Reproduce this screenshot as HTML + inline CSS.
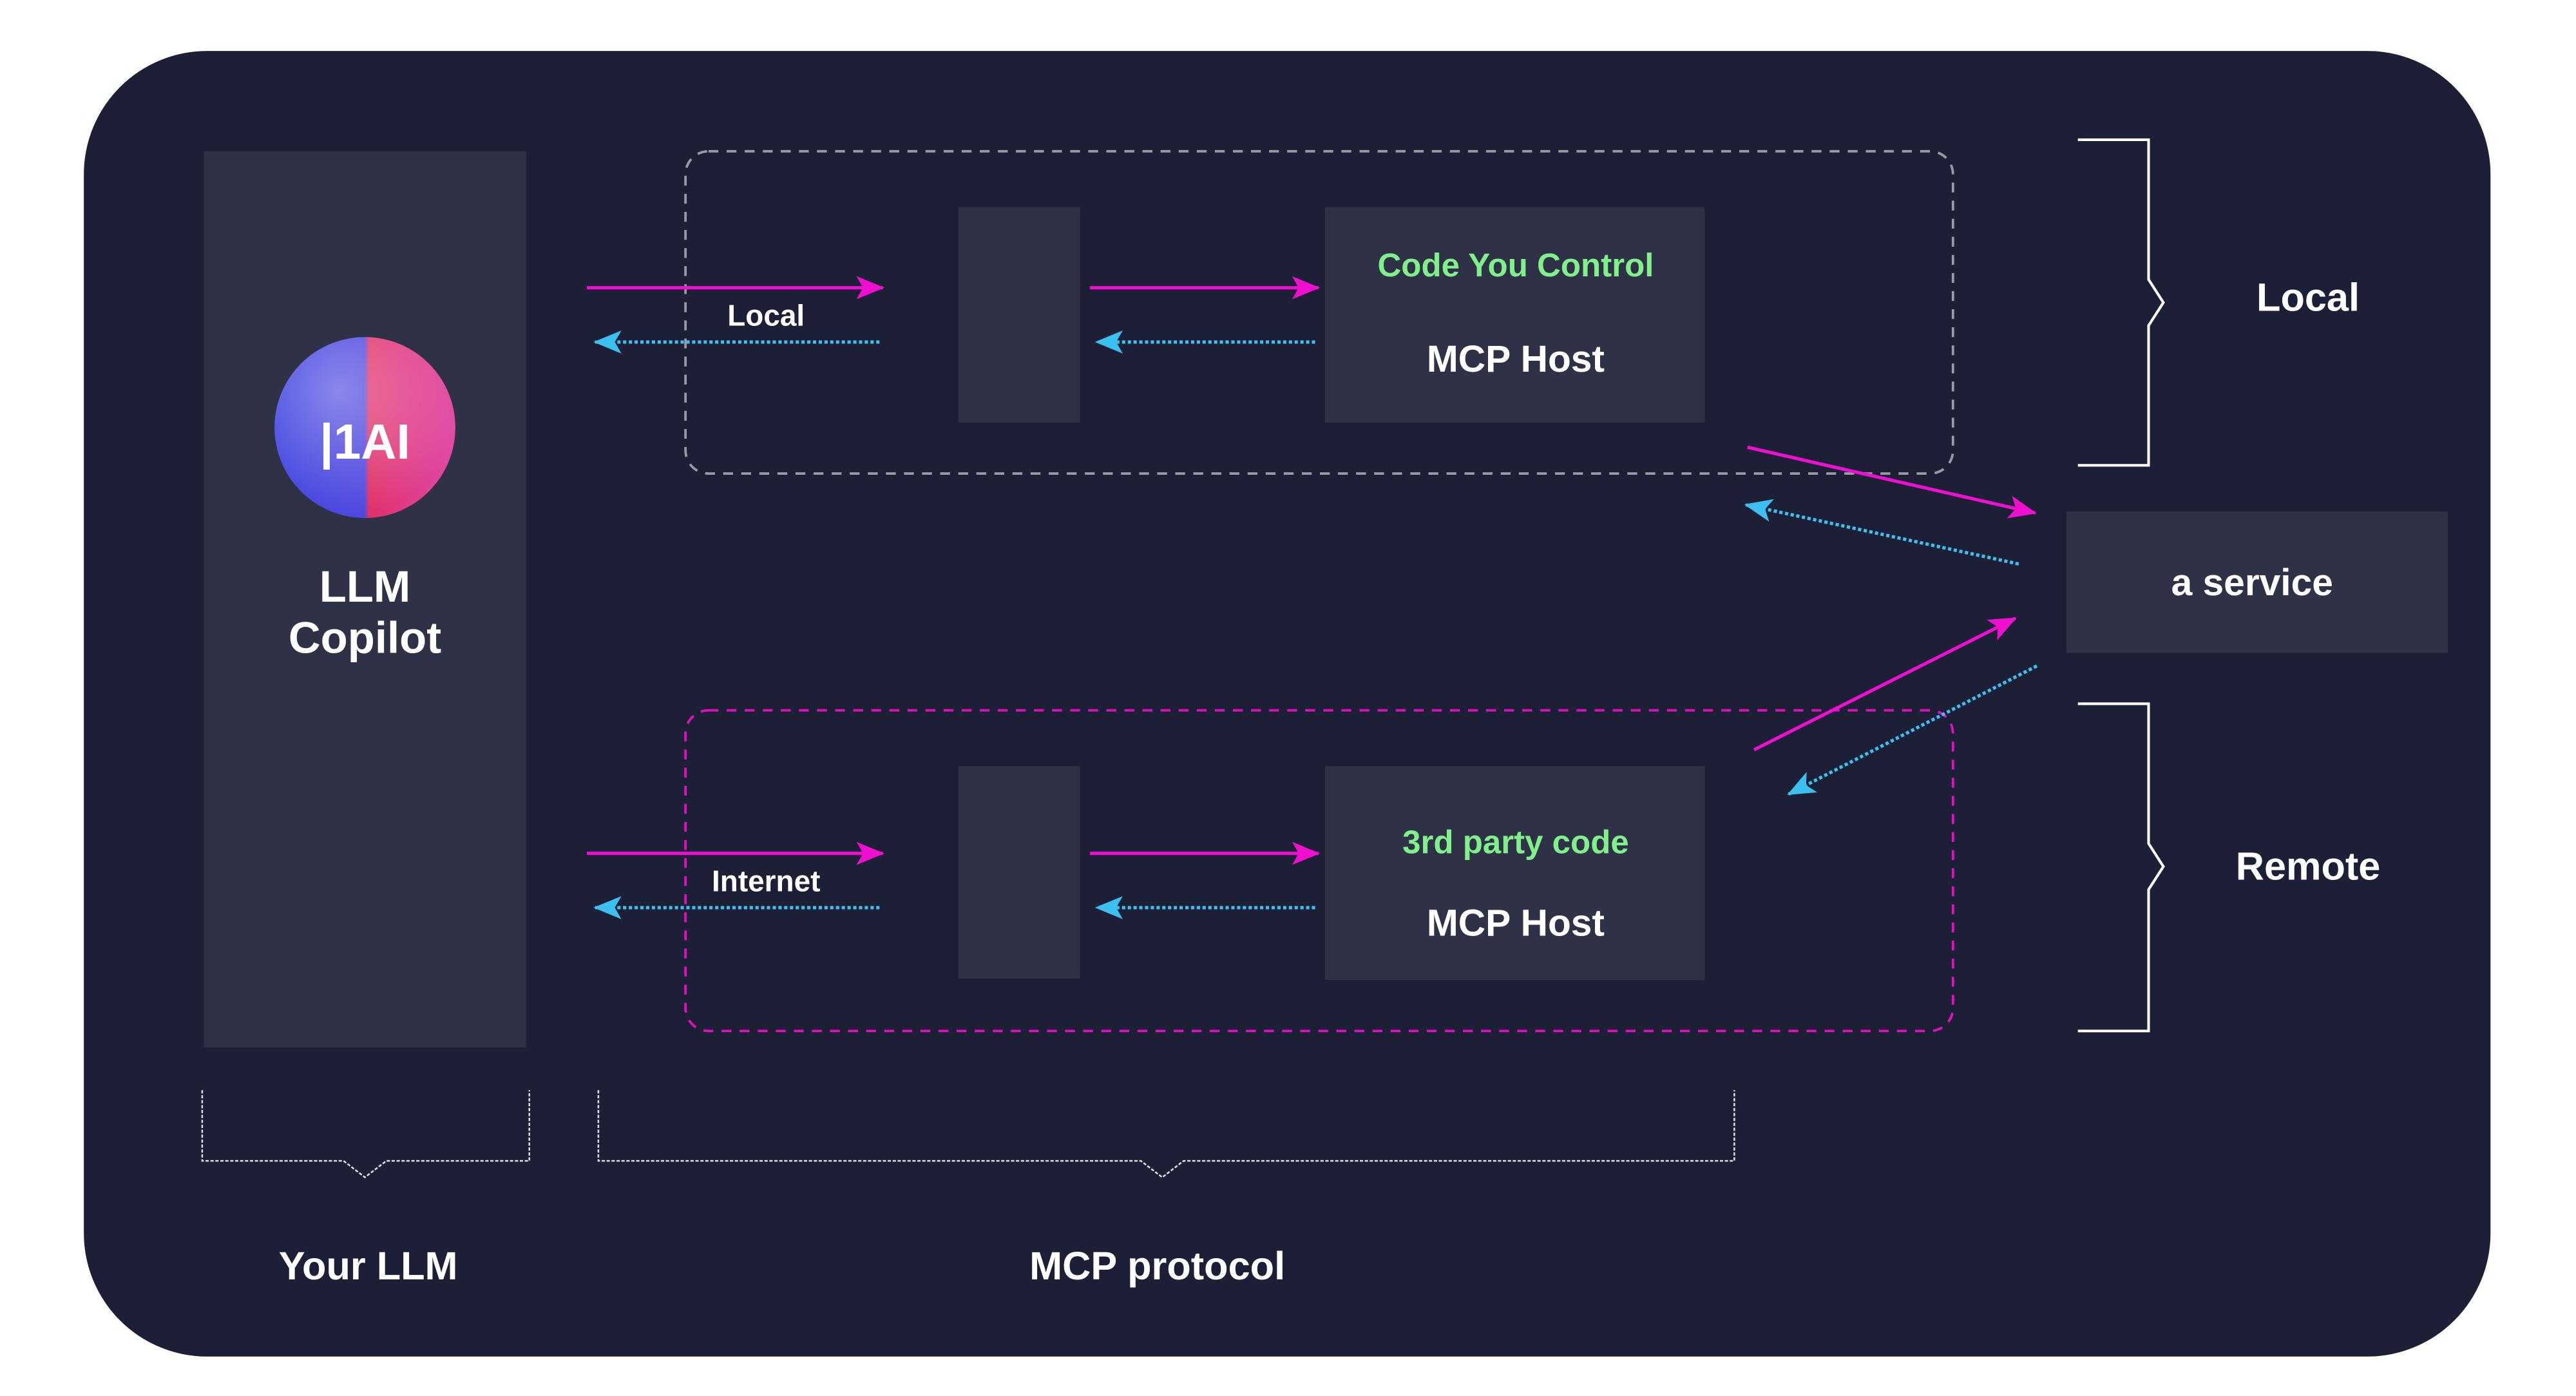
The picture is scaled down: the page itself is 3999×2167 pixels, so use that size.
<!DOCTYPE html>
<html><head><meta charset="utf-8"><style>html,body{margin:0;padding:0;background:#fff}svg{display:block}text{font-family:"Liberation Sans",sans-serif;font-weight:bold}</style></head>
<body>
<svg width="3999" height="2167" viewBox="0 0 1567 849" preserveAspectRatio="none" xmlns="http://www.w3.org/2000/svg">
<defs>
<marker id="mg" markerWidth="20" markerHeight="20" refX="16" refY="10" orient="auto" markerUnits="userSpaceOnUse" viewBox="0 0 20 20"><path d="M0,3 L17,10 L0,17 L4,10 Z" fill="#f00fd0"/></marker>
<marker id="cy" markerWidth="20" markerHeight="20" refX="16" refY="10" orient="auto" markerUnits="userSpaceOnUse" viewBox="0 0 20 20"><path d="M0,3 L17,10 L0,17 L4,10 Z" fill="#3cc0f0"/></marker>
<linearGradient id="lg" x1="0" x2="1" y1="0" y2="0"><stop offset="0" stop-color="#3a3fe0"/><stop offset="0.5" stop-color="#5048e0"/><stop offset="0.52" stop-color="#e0306a"/><stop offset="1" stop-color="#e04aa8"/></linearGradient>
<radialGradient id="hl" cx="0.35" cy="0.3" r="0.7"><stop offset="0" stop-color="#fff" stop-opacity="0.35"/><stop offset="1" stop-color="#fff" stop-opacity="0"/></radialGradient>
</defs>
<rect x="51" y="31" width="1464" height="794" rx="75" fill="#1d1f36"/>
<rect x="124" y="92" width="196" height="545" fill="#2f3146"/>
<circle cx="222" cy="260" r="55" fill="url(#lg)"/>
<circle cx="222" cy="260" r="55" fill="url(#hl)"/>
<text x="222" y="279" font-size="30" fill="#fff" text-anchor="middle">|1AI</text>
<text x="222" y="366" font-size="27" fill="#fff" text-anchor="middle">LLM</text>
<text x="222" y="397" font-size="27" fill="#fff" text-anchor="middle">Copilot</text>

<rect x="417" y="92" width="771" height="196" rx="14" fill="none" stroke="#9a9aa4" stroke-width="1.5" stroke-dasharray="6 5"/>
<rect x="417" y="432" width="771" height="195" rx="14" fill="none" stroke="#e010c0" stroke-width="1.5" stroke-dasharray="6 5"/>

<rect x="583" y="126" width="74" height="131" fill="#2f3146"/>
<rect x="806" y="126" width="231" height="131" fill="#2f3146"/>
<text x="922" y="168" font-size="20" fill="#7ff08a" text-anchor="middle">Code You Control</text>
<text x="922" y="226" font-size="23" fill="#fff" text-anchor="middle">MCP Host</text>

<rect x="583" y="466" width="74" height="129" fill="#2f3146"/>
<rect x="806" y="466" width="231" height="130" fill="#2f3146"/>
<text x="922" y="519" font-size="20" fill="#7ff08a" text-anchor="middle">3rd party code</text>
<text x="922" y="569" font-size="23" fill="#fff" text-anchor="middle">MCP Host</text>

<rect x="1257" y="311" width="232" height="86" fill="#2f3146"/>
<text x="1370" y="362" font-size="23" fill="#fff" text-anchor="middle">a service</text>

<g stroke-width="2" fill="none">
<line x1="357" y1="175" x2="537" y2="175" stroke="#f00fd0" marker-end="url(#mg)"/>
<line x1="535" y1="208" x2="362" y2="208" stroke="#3cc0f0" stroke-dasharray="2 1.5" marker-end="url(#cy)"/>
<line x1="663" y1="175" x2="802" y2="175" stroke="#f00fd0" marker-end="url(#mg)"/>
<line x1="800" y1="208" x2="667" y2="208" stroke="#3cc0f0" stroke-dasharray="2 1.5" marker-end="url(#cy)"/>
<line x1="357" y1="519" x2="537" y2="519" stroke="#f00fd0" marker-end="url(#mg)"/>
<line x1="535" y1="552" x2="362" y2="552" stroke="#3cc0f0" stroke-dasharray="2 1.5" marker-end="url(#cy)"/>
<line x1="663" y1="519" x2="802" y2="519" stroke="#f00fd0" marker-end="url(#mg)"/>
<line x1="800" y1="552" x2="667" y2="552" stroke="#3cc0f0" stroke-dasharray="2 1.5" marker-end="url(#cy)"/>
<line x1="1063" y1="272" x2="1238" y2="312" stroke="#f00fd0" marker-end="url(#mg)"/>
<line x1="1228" y1="343" x2="1062" y2="307" stroke="#3cc0f0" stroke-dasharray="2 1.5" marker-end="url(#cy)"/>
<line x1="1067" y1="456" x2="1226" y2="376" stroke="#f00fd0" marker-end="url(#mg)"/>
<line x1="1239" y1="405" x2="1088" y2="483" stroke="#3cc0f0" stroke-dasharray="2 1.5" marker-end="url(#cy)"/>
</g>
<text x="466" y="198" font-size="18" fill="#fff" text-anchor="middle">Local</text>
<text x="466" y="542" font-size="18" fill="#fff" text-anchor="middle">Internet</text>

<g stroke="#fff" stroke-width="1.6" fill="none">
<polyline points="1264,85 1307,85 1307,170 1316,184 1307,198 1307,283 1264,283"/>
<polyline points="1264,428 1307,428 1307,513 1316,527 1307,541 1307,627 1264,627"/>
</g>
<g stroke="#ddd" stroke-width="1" fill="none" stroke-dasharray="2 1">
<polyline points="123,663 123,706 209,706 222,716 235,706 322,706 322,663"/>
<polyline points="364,663 364,706 694,706 707,716 720,706 1055,706 1055,663"/>
</g>
<text x="1404" y="189" font-size="24" fill="#fff" text-anchor="middle">Local</text>
<text x="1404" y="535" font-size="24" fill="#fff" text-anchor="middle">Remote</text>
<text x="224" y="778" font-size="24" fill="#fff" text-anchor="middle">Your LLM</text>
<text x="704" y="778" font-size="24" fill="#fff" text-anchor="middle">MCP protocol</text>
</svg>
</body></html>
